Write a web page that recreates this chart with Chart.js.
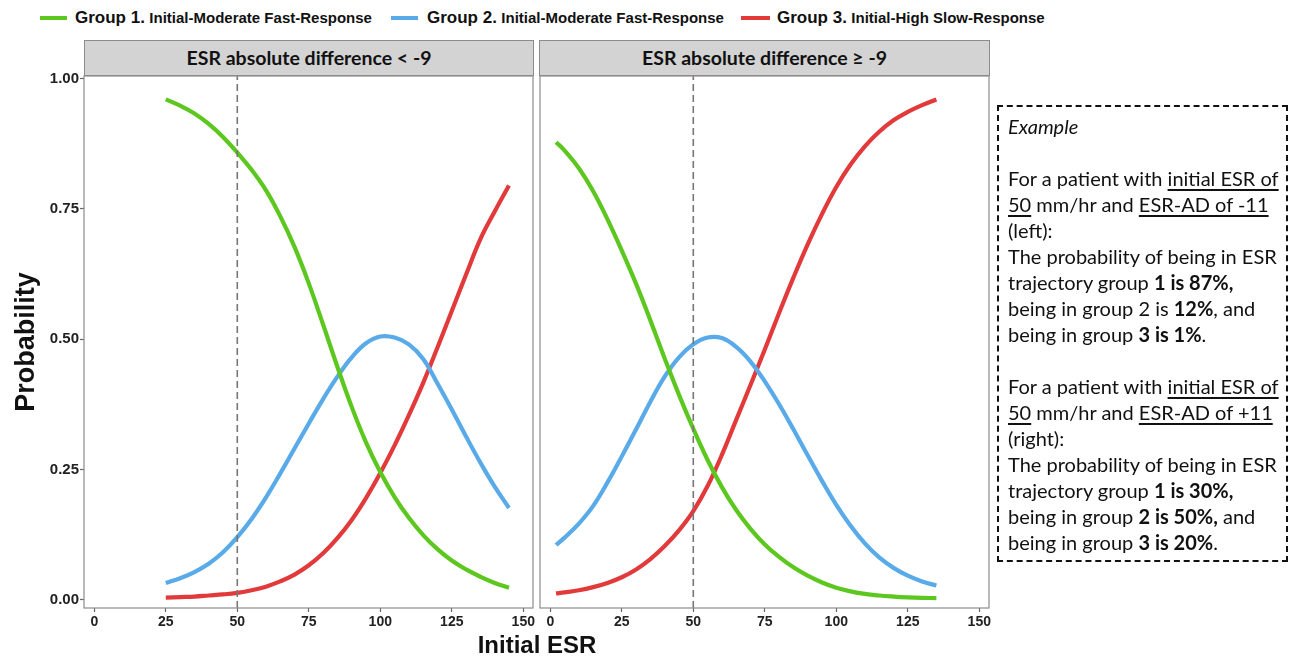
<!DOCTYPE html>
<html>
<head>
<meta charset="utf-8">
<script src="https://cdn.jsdelivr.net/npm/chart.js@4/dist/chart.umd.min.js"></script>
<style>
  body { margin: 0; background: #fff; width: 1291px; height: 657px; overflow: hidden; position: relative; font-family: "Liberation Sans", Arial, sans-serif; }
  canvas { position: absolute; top: 0; }
  .leg { position: absolute; top: 7px; font-weight: bold; white-space: nowrap; color: #111; line-height: 22px; }
  .leg .big { font-size: 17px; }
  .leg .small { font-size: 15px; }
  .swatch { position: absolute; top: 16px; height: 4px; }
  .strip { position: absolute; top: 40px; height: 36px; background: #d3d3d3; border: 1px solid #8c8c8c; box-sizing: border-box;
           font-family: Lato, "Open Sans", sans-serif; font-weight: bold; font-size: 19.5px; color: #111; text-align: center; line-height: 34px; }
  .xtitle { position: absolute; left: 337px; width: 400px; top: 631px; text-align: center; font-weight: bold; font-size: 24px; color: #111; }
  .box { position: absolute; left: 997px; top: 105px; width: 291px; height: 457px; border: 2px dashed #111; box-sizing: border-box;
         padding: 6px 0 0 9px; font-family: Lato, "Open Sans", sans-serif; font-size: 20px; line-height: 26px; color: #111; white-space: nowrap; }
  .box u { text-underline-offset: 3px; }
</style>
</head>
<body>
<div class="swatch" style="left:40px;width:27px;background:#5cc71e"></div>
<div class="leg" style="left:75px"><span class="big">Group 1.</span> <span class="small">Initial-Moderate Fast-Response</span></div>
<div class="swatch" style="left:391px;width:27px;background:#58aae9"></div>
<div class="leg" style="left:427px"><span class="big">Group 2.</span> <span class="small">Initial-Moderate Fast-Response</span></div>
<div class="swatch" style="left:741px;width:29px;background:#e2393a"></div>
<div class="leg" style="left:777px"><span class="big">Group 3.</span> <span class="small">Initial-High Slow-Response</span></div>

<div class="strip" style="left:84px;width:450px">ESR absolute difference &lt; -9</div>
<div class="strip" style="left:539px;width:451px">ESR absolute difference ≥ -9</div>

<canvas id="panelLeft" width="540" height="657" style="left:0"></canvas>
<canvas id="panelRight" width="466" height="657" style="left:534px"></canvas>

<div class="xtitle">Initial ESR</div>

<div class="box">
<i>Example</i><br><br>
For a patient with <u>initial ESR of</u><br>
<u>50</u> mm/hr and <u>ESR-AD of -11</u><br>
(left):<br>
The probability of being in ESR<br>
trajectory group <b>1 is 87%,</b><br>
being in group 2 is <b>12%</b>, and<br>
being in group <b>3 is 1%</b>.<br><br>
For a patient with <u>initial ESR of</u><br>
<u>50</u> mm/hr and <u>ESR-AD of +11</u><br>
(right):<br>
The probability of being in ESR<br>
trajectory group <b>1 is 30%,</b><br>
being in group <b>2 is 50%,</b> and<br>
being in group <b>3 is 20%</b>.
</div>

<script>
// ticks
var xTicks = [0, 25, 50, 75, 100, 125, 150]
var yTicks = [0, 0.25, 0.5, 0.75, 1]
var cutoffEsr = 50

// left panel: ESR absolute difference < -9
var esrLeft = [25, 30, 35, 40, 45, 50, 55, 60, 65, 70, 75, 80, 85, 90, 95, 100, 105, 110, 115, 120, 125, 130, 135, 140, 145]
var group1Left = [0.960, 0.948, 0.933, 0.913, 0.888, 0.858, 0.825, 0.786, 0.736, 0.677, 0.607, 0.528, 0.447, 0.370, 0.302, 0.245, 0.197, 0.157, 0.124, 0.097, 0.075, 0.058, 0.044, 0.032, 0.023]
var group2Left = [0.032, 0.041, 0.053, 0.069, 0.091, 0.120, 0.155, 0.196, 0.242, 0.290, 0.338, 0.385, 0.428, 0.465, 0.492, 0.505, 0.503, 0.490, 0.462, 0.415, 0.365, 0.313, 0.263, 0.217, 0.176]
var group3Left = [0.004, 0.005, 0.006, 0.008, 0.010, 0.013, 0.018, 0.025, 0.035, 0.048, 0.066, 0.089, 0.118, 0.153, 0.195, 0.243, 0.296, 0.354, 0.416, 0.484, 0.554, 0.624, 0.692, 0.745, 0.795]

// right panel: ESR absolute difference >= -9
var esrRight = [2, 5, 10, 15, 20, 25, 30, 35, 40, 45, 50, 55, 60, 65, 70, 75, 80, 85, 90, 95, 100, 105, 110, 115, 120, 125, 130, 135]
var group1Right = [0.878, 0.862, 0.828, 0.784, 0.730, 0.670, 0.606, 0.536, 0.463, 0.393, 0.328, 0.268, 0.216, 0.172, 0.136, 0.106, 0.082, 0.062, 0.046, 0.033, 0.023, 0.016, 0.011, 0.008, 0.006, 0.0045, 0.0035, 0.003]
var group2Right = [0.105, 0.119, 0.146, 0.180, 0.225, 0.275, 0.327, 0.380, 0.428, 0.465, 0.490, 0.503, 0.502, 0.485, 0.457, 0.419, 0.375, 0.327, 0.277, 0.228, 0.182, 0.142, 0.108, 0.081, 0.061, 0.046, 0.035, 0.027]
var group3Right = [0.012, 0.014, 0.018, 0.024, 0.032, 0.043, 0.058, 0.078, 0.103, 0.133, 0.170, 0.218, 0.278, 0.345, 0.412, 0.480, 0.550, 0.618, 0.682, 0.740, 0.792, 0.835, 0.870, 0.898, 0.920, 0.936, 0.949, 0.960]

var colors = ["#5cc71e", "#58aae9", "#e2393a"]
var xMin = -3.6, xMax = 153.4
var yMin = -0.016, yMax = 1.005

function toPoints(xs, ys) {
  return xs.map(function (x, i) { return {x: x, y: ys[i]} })
}

// grey box round each facet, like ggplot panel.border
var panelBorder = {
  id: 'panelBorder',
  afterDraw: function (chart) {
    var a = chart.chartArea, ctx = chart.ctx
    ctx.save()
    ctx.strokeStyle = '#8c8c8c'
    ctx.lineWidth = 1.2
    ctx.strokeRect(a.left, a.top, a.right - a.left, a.bottom - a.top)
    ctx.restore()
  }
}

function curve(xs, ys, color) {
  return {
    data: toPoints(xs, ys),
    borderColor: color,
    borderWidth: 4.2,
    pointRadius: 0,
    fill: false,
    tension: 0.4
  }
}

function drawPanel(id, esr, g1, g2, g3, isLeft) {
  new Chart(document.getElementById(id), {
    type: 'line',
    data: {
      datasets: [
        {
          data: [{x: cutoffEsr, y: yMin}, {x: cutoffEsr, y: yMax}],
          borderColor: '#777',
          borderWidth: 1.6,
          borderDash: [7, 4],
          pointRadius: 0
        },
        curve(esr, g1, colors[0]),
        curve(esr, g2, colors[1]),
        curve(esr, g3, colors[2])
      ]
    },
    options: {
      responsive: false,
      animation: false,
      layout: {
        padding: isLeft ? {top: 76, right: 7, bottom: 19, left: 0} : {top: 76, right: 11, bottom: 19, left: 6}
      },
      plugins: {
        legend: {display: false},
        tooltip: {enabled: false}
      },
      scales: {
        x: {
          type: 'linear',
          min: xMin,
          max: xMax,
          afterBuildTicks: function (s) { s.ticks = xTicks.map(function (v) { return {value: v} }) },
          afterFit: function (s) { s.height = 30 },
          grid: {drawOnChartArea: false, tickLength: 4, color: '#666', tickWidth: 1.2},
          border: {display: false},
          ticks: {
            font: {family: 'Liberation Sans', weight: 'bold', size: 14},
            color: '#222',
            padding: 2,
            maxRotation: 0,
            autoSkip: false
          }
        },
        y: {
          type: 'linear',
          display: isLeft,
          min: yMin,
          max: yMax,
          afterBuildTicks: function (s) { s.ticks = yTicks.map(function (v) { return {value: v} }) },
          afterFit: function (s) { if (isLeft) s.width = 84 },
          grid: {drawOnChartArea: false, tickLength: 4, color: '#666', tickWidth: 1.2},
          border: {display: false},
          ticks: {
            font: {family: 'Liberation Sans', weight: 'bold', size: 15},
            color: '#222',
            padding: 1,
            callback: function (v) { return v.toFixed(2) }
          },
          title: {
            display: true,
            text: 'Probability',
            color: '#111',
            font: {family: 'Liberation Sans', weight: 'bold', size: 27},
            padding: {top: 10, bottom: 0}
          }
        }
      }
    },
    plugins: [panelBorder]
  })
}

drawPanel('panelLeft', esrLeft, group1Left, group2Left, group3Left, true)
drawPanel('panelRight', esrRight, group1Right, group2Right, group3Right, false)
</script>
</body>
</html>
